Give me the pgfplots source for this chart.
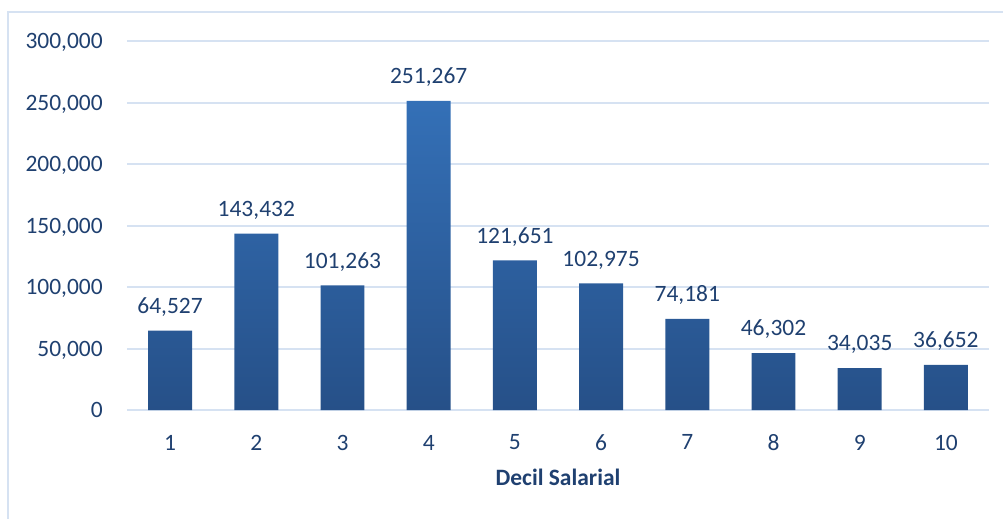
\documentclass[border=0pt]{standalone}
\usepackage{pgfplots}
\usepackage{pgfplotstable}
\pgfplotsset{compat=1.18}
\usepackage{fontspec}
\setmainfont{Carlito}
\definecolor{txt}{RGB}{31,64,112}
\definecolor{gridc}{RGB}{214,226,242}
\definecolor{bartop}{RGB}{52,112,183}
\definecolor{barbot}{RGB}{38,80,136}
\pgfplotstableread{
x y lab
1 64527 64,527
2 143432 143,432
3 101263 101,263
4 251267 251,267
5 121651 121,651
6 102975 102,975
7 74181 74,181
8 46302 46,302
9 34035 34,035
10 36652 36,652
}\datatable
\newcommand{\lblfont}{\fontsize{17.6}{21}\selectfont}
\begin{document}
\begin{tikzpicture}
\path[use as bounding box] (0pt,0pt) rectangle (752.25pt,388.5pt);
\draw[gridc, line width=1.5pt] (6pt,-10pt) -- (6pt,379.5pt) -- (770pt,379.5pt);
\begin{axis}[
  at={(95.25pt,81pt)}, anchor=south west,
  scale only axis, width=646.5pt, height=276.75pt,
  xmin=0.5, xmax=10.5, ymin=0, ymax=300000,
  ybar, bar width=0.51,
  axis line style={draw=none},
  major tick length=0pt,
  ymajorgrids, grid style={gridc, line width=1.5pt},
  xtick={1,...,10},
  ytick={0,50000,...,300000},
  scaled y ticks=false,
  /pgf/number format/assume math mode=true,
  yticklabel={\pgfmathprintnumber[fixed,1000 sep={,}]{\tick}},
  yticklabel style={font=\lblfont, text=txt, inner sep=0pt, xshift=-18pt, text depth=0pt},
  xticklabel style={font=\lblfont, text=txt, inner sep=0pt, yshift=-18.5pt, anchor=north},
  xlabel={\textbf{Decil Salarial}},
  xlabel style={font=\lblfont, text=txt, at={(axis description cs:0.5,0)}, anchor=north, inner sep=0pt, yshift=-44pt},
  point meta=explicit symbolic,
  nodes near coords,
  every node near coord/.append style={font=\lblfont, text=txt, anchor=south, inner sep=0pt, text depth=0pt, yshift=12.75pt},
]
\addplot[draw=none, top color=bartop, bottom color=barbot] table[x=x, y=y, meta=lab] {\datatable};
\end{axis}
\end{tikzpicture}
\end{document}
